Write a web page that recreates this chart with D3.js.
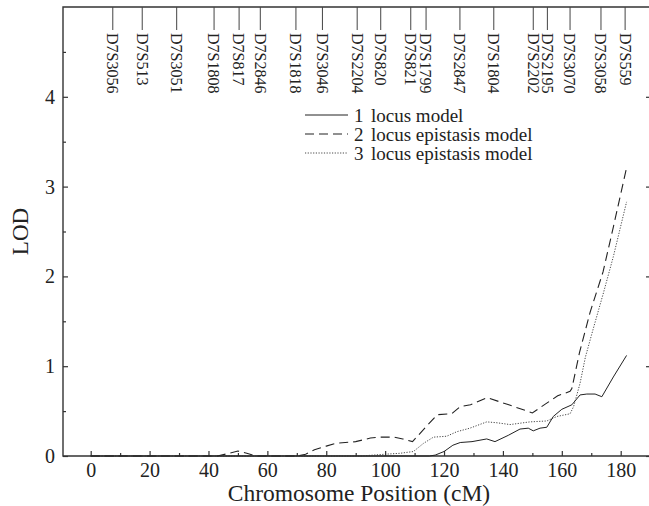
<!DOCTYPE html>
<html>
<head>
<meta charset="utf-8">
<script src="https://cdn.jsdelivr.net/npm/d3@7"></script>
<style>
  body { margin: 0; background: #fff; }
  svg { display: block; }
  text { font-family: "Liberation Serif", "Times New Roman", serif; fill: #222; }
</style>
</head>
<body>
<div class="chart-wrapper"></div>
<script>
const markerNames = ['D7S3056','D7S513','D7S3051','D7S1808','D7S817','D7S2846','D7S1818','D7S3046',
  'D7S2204','D7S820','D7S821','D7S1799','D7S2847','D7S1804','D7S2202','D7S2195','D7S3070','D7S3058','D7S559']
const markerPos = [7.5, 17.5, 29.2, 41.9, 50.4, 57.6, 69.7, 78.7, 90.5, 98.5, 108.7, 113.9, 125.4, 136.9,
  150.3, 155.1, 162.8, 173.3, 181.5]

// [cM, LOD]
const oneLocus = [[0,0],[115,0],[117,0.01],[120,0.05],[123,0.12],[125.5,0.15],[129.5,0.16],[134.5,0.19],
  [137.3,0.16],[141.8,0.23],[145.8,0.30],[148.6,0.31],[150.3,0.28],[152.6,0.31],[154.9,0.32],[157.1,0.44],
  [160,0.52],[163.4,0.57],[166.2,0.68],[168.5,0.69],[171.3,0.69],[173.6,0.66],[177.5,0.88],[182,1.12]]

const twoLocus = [[0,0],[43,0],[47,0.03],[50,0.055],[53,0.03],[56,0],[70,0],[73,0.02],[76,0.07],[80,0.11],
  [83,0.14],[90,0.16],[95,0.2],[98,0.21],[103,0.21],[106,0.19],[109.3,0.16],[114,0.33],[117.7,0.46],
  [122.6,0.47],[125.5,0.55],[129,0.57],[134.6,0.65],[142,0.57],[150,0.48],[154.5,0.58],[158.6,0.67],
  [162.8,0.72],[163.4,0.75],[166,1.15],[169.6,1.6],[174,2.05],[177.5,2.55],[182,3.21]]

const threeLocus = [[0,0],[92,0],[96,0.01],[100,0.02],[105,0.03],[109.6,0.05],[113,0.14],[116.4,0.21],
  [120.9,0.22],[124.3,0.27],[128.8,0.31],[134.5,0.38],[138,0.37],[142.4,0.35],[149.2,0.38],[154.9,0.39],
  [158.3,0.44],[162.8,0.47],[164,0.55],[166.2,0.81],[168,1.1],[170.7,1.42],[174,1.8],[177.5,2.22],[182,2.83]]

const legendLabels = ['1', '2', '3']
const legendNames = ['locus model', 'locus epistasis model', 'locus epistasis model']

const xMajor = [0, 20, 40, 60, 80, 100, 120, 140, 160, 180]
const xMinor = [10, 30, 50, 70, 90, 110, 130, 150, 170]
const yMajor = [0, 1, 2, 3, 4]
const yMinor = [0.5, 1.5, 2.5, 3.5, 4.5]

const width = 649, height = 506
const mLeft = 63, mRight = 650, mTop = 7, mBottom = 456

const x = d3.scaleLinear().domain([0, 180]).range([90.7, 620.7])
const y = d3.scaleLinear().domain([0, 5]).range([mBottom, mTop])

const svg = d3.select('.chart-wrapper')
.append('svg')
.attr('width', width)
.attr('height', height)

const axisColor = '#333'

// frame
svg.append('path')
.attr('d', `M${mRight},${mTop}H${mLeft}V${mBottom}H${mRight}`)
.style('fill', 'none')
.style('stroke', axisColor)
.style('stroke-width', 1.4)

// bottom axis
const gx = svg.append('g').attr('transform', `translate(0,${mBottom})`)
gx.call(d3.axisBottom(x).tickValues(xMajor).tickSize(-5).tickSizeOuter(0).tickPadding(7))
gx.append('g').call(d3.axisBottom(x).tickValues(xMinor).tickSize(-3).tickSizeOuter(0).tickFormat(''))

// left axis
const gy = svg.append('g').attr('transform', `translate(${mLeft},0)`)
gy.call(d3.axisLeft(y).tickValues(yMajor).tickFormat(d3.format('d')).tickSize(-5).tickSizeOuter(0).tickPadding(8))
gy.append('g').call(d3.axisLeft(y).tickValues(yMinor).tickSize(-3).tickSizeOuter(0).tickFormat(''))

// right axis ticks
const gr = svg.append('g').attr('transform', `translate(${mRight},0)`)
gr.call(d3.axisRight(y).tickValues(yMajor).tickSize(-4).tickSizeOuter(0).tickFormat(''))

svg.selectAll('.domain').remove()
svg.selectAll('.tick line').style('stroke', axisColor).style('stroke-width', 1.2)
svg.selectAll('.tick text')
.style('font-family', '"Liberation Serif", "Times New Roman", serif')
.style('font-size', '20px')
.style('fill', '#222')

// axis titles
svg.append('text')
.attr('x', 359)
.attr('y', 501)
.attr('text-anchor', 'middle')
.style('font-size', '23.5px')
.text('Chromosome Position (cM)')

svg.append('text')
.attr('transform', `translate(28,${(mTop + mBottom) / 2}) rotate(-90)`)
.attr('text-anchor', 'middle')
.style('font-size', '23px')
.text('LOD')

// markers
const markers = svg.append('g')
.selectAll('g')
.data(markerNames)
.enter()
.append('g')
.attr('transform', (d, i) => `translate(${x(markerPos[i])},0)`)

markers.append('line')
.attr('y1', mTop)
.attr('y2', 30)
.style('stroke', '#444')
.style('stroke-width', 1)

markers.append('text')
.attr('transform', 'translate(0,33) rotate(90)')
.attr('dy', '0.35em')
.style('font-size', '16px')
.text(d => d)

// curves
const line = d3.line().x(d => x(d[0])).y(d => y(d[1]))

const series = [
  { data: oneLocus, dash: null, width: 1, color: '#222' },
  { data: twoLocus, dash: '9,5', width: 1.1, color: '#222' },
  { data: threeLocus, dash: '1.2,1.5', width: 0.9, color: '#333' }
]

svg.append('g')
.selectAll('path')
.data(series)
.enter()
.append('path')
.attr('d', d => line(d.data))
.style('fill', 'none')
.style('stroke', d => d.color)
.style('stroke-width', d => d.width)
.style('stroke-dasharray', d => d.dash)

// legend
const legend = svg.append('g')
.selectAll('g')
.data(series)
.enter()
.append('g')
.attr('transform', (d, i) => `translate(0,${115 + i * 19})`)

legend.append('line')
.attr('x1', 305)
.attr('x2', 348)
.style('stroke', d => d.color)
.style('stroke-width', d => d.width)
.style('stroke-dasharray', d => d.dash)

legend.append('text')
.attr('x', 354)
.attr('dy', '0.35em')
.style('font-size', '19px')
.text((d, i) => legendLabels[i])

legend.append('text')
.attr('x', 371)
.attr('dy', '0.35em')
.style('font-size', '19px')
.text((d, i) => legendNames[i])
</script>
</body>
</html>
